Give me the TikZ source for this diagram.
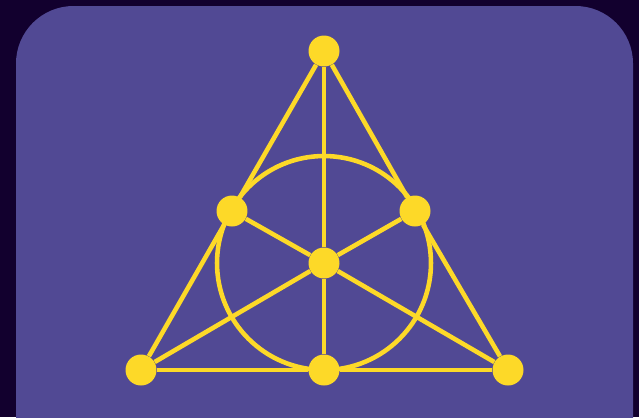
\documentclass[tikz,border=0pt]{standalone}
\usepackage{tikz}

\definecolor{sfondo}{HTML}{12002E}
\definecolor{viola}{HTML}{514994}
\definecolor{giallo}{HTML}{FDD928}

\begin{document}
\begin{tikzpicture}[x=0.02cm, y=-0.02cm]

        % Sfondo scuro e riquadro viola arrotondato
        \fill[sfondo] (0,0) rectangle (639,417);
        \useasboundingbox (0,0) rectangle (639,417);
        \fill[viola, rounded corners=1.15cm] (16,6) rectangle (633,500);

        % Stile per i punti e per le rette
        \tikzset{punto/.style={circle, fill=giallo, inner sep=0pt, minimum size=0.62cm},
                 retta/.style={draw=giallo, line width=2.6pt}}

        % Punti del piano di Fano
        \node[punto] (alto) at (324,51) {};
        \node[punto] (sx) at (232,211) {};
        \node[punto] (dx) at (415,211) {};
        \node[punto] (centro) at (324,263) {};
        \node[punto] (bsx) at (141,370) {};
        \node[punto] (bmez) at (324,370) {};
        \node[punto] (bdx) at (508,370) {};

        % Lati del triangolo
        \draw[retta] (alto) -- (sx) -- (bsx);
        \draw[retta] (alto) -- (dx) -- (bdx);
        \draw[retta] (bsx) -- (bmez) -- (bdx);

        % Mediane
        \draw[retta] (alto) -- (centro) -- (bmez);
        \draw[retta] (sx) -- (centro) -- (bdx);
        \draw[retta] (dx) -- (centro) -- (bsx);

        % Cerchio inscritto
        \draw[retta] (centro) circle[radius=2.14cm];

\end{tikzpicture}
\end{document}
